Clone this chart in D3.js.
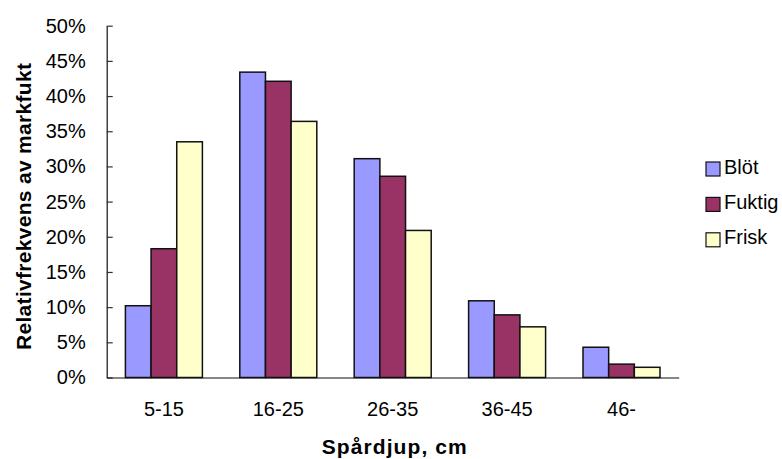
<!DOCTYPE html>
<html>
<head>
<meta charset="utf-8">
<script src="https://cdn.jsdelivr.net/npm/d3@7"></script>
<style>
  html, body { margin: 0; padding: 0; background: #fff; }
  svg { display: block; font-family: Arial, "Liberation Sans", sans-serif; }
</style>
</head>
<body>
<svg id="chart" width="782" height="459"></svg>
<script>
// Spårdjup-klasser och relativ frekvens (%) per markfuktighetsklass
const categories = ["5-15", "16-25", "26-35", "36-45", "46-"];
const seriesNames = ["Blöt", "Fuktig", "Frisk"];
const blot   = [10.2, 43.4, 31.1, 10.9, 4.3];
const fuktig = [18.3, 42.1, 28.6, 8.9, 1.9];
const frisk  = [33.5, 36.4, 20.9, 7.2, 1.45];
const yTicks = [0, 5, 10, 15, 20, 25, 30, 35, 40, 45, 50];
const colors = ["#9999FF", "#993366", "#FFFFCC"];

const seriesValues = [blot, fuktig, frisk];

const svg = d3.select("#chart");
const plot = { left: 106.7, right: 678.7, top: 25.7, bottom: 377.5 };
const labelSize = 20;
const titleSize = 21;

const x = d3.scaleBand()
  .domain(categories)
  .range([plot.left, plot.right])
  .paddingInner(0.327)
  .paddingOuter(0.327 / 2);

const xs = d3.scaleBand()
  .domain(seriesNames)
  .range([0, x.bandwidth()])
  .padding(0);

const y = d3.scaleLinear()
  .domain([0, 50])
  .range([plot.bottom, plot.top]);

// Bars
const groups = svg.append("g")
  .selectAll("g")
  .data(categories)
  .join("g")
  .attr("transform", d => `translate(${x(d)},0)`);

groups.selectAll("rect")
  .data((c, i) => seriesNames.map((s, j) => ({ s, v: seriesValues[j][i], j })))
  .join("rect")
  .attr("x", d => xs(d.s))
  .attr("y", d => y(d.v))
  .attr("width", xs.bandwidth())
  .attr("height", d => y(0) - y(d.v))
  .attr("fill", d => colors[d.j])
  .attr("stroke", "#111")
  .attr("stroke-width", 1.5);

// Y axis with inward ticks
const yAxis = d3.axisLeft(y)
  .tickValues(yTicks)
  .tickFormat(d => d + "%")
  .tickSizeInner(-6)
  .tickSizeOuter(0)
  .tickPadding(21);

const gy = svg.append("g")
  .attr("transform", `translate(${plot.left},0)`)
  .call(yAxis);
gy.select(".domain").attr("stroke", "#111").attr("stroke-width", 1.2);
gy.selectAll(".tick line").attr("stroke", "#333").attr("stroke-width", 1.2);
gy.selectAll(".tick text")
  .attr("font-size", labelSize)
  .attr("font-family", "Arial, 'Liberation Sans', sans-serif")
  .attr("fill", "#000");

// X axis (no tick marks)
const xAxis = d3.axisBottom(x)
  .tickSize(0)
  .tickPadding(24);

const gx = svg.append("g")
  .attr("transform", `translate(0,${plot.bottom})`)
  .call(xAxis);
gx.select(".domain").attr("stroke", "#111").attr("stroke-width", 1.2);
gx.selectAll(".tick text")
  .attr("font-size", labelSize)
  .attr("font-family", "Arial, 'Liberation Sans', sans-serif")
  .attr("fill", "#000");

// Axis titles
svg.append("text")
  .attr("x", 394.2)
  .attr("y", 454)
  .attr("text-anchor", "middle")
  .attr("font-size", titleSize)
  .attr("font-weight", "bold")
  .attr("textLength", 145)
  .attr("lengthAdjust", "spacing")
  .text("Spårdjup, cm");

svg.append("text")
  .attr("transform", `translate(30.5,${206.5}) rotate(-90)`)
  .attr("text-anchor", "middle")
  .attr("font-size", titleSize)
  .attr("font-weight", "bold")
  .attr("textLength", 287)
  .attr("lengthAdjust", "spacing")
  .text("Relativfrekvens av markfukt");

// Legend
const legend = svg.append("g")
  .selectAll("g")
  .data(seriesNames)
  .join("g")
  .attr("transform", (d, i) => `translate(706,${162 + i * 35.4})`);

legend.append("rect")
  .attr("width", 14)
  .attr("height", 14)
  .attr("fill", (d, i) => colors[i])
  .attr("stroke", "#111")
  .attr("stroke-width", 1.2);

legend.append("text")
  .attr("x", 18)
  .attr("y", 11.5)
  .attr("font-size", labelSize)
  .text(d => d);
</script>
</body>
</html>
